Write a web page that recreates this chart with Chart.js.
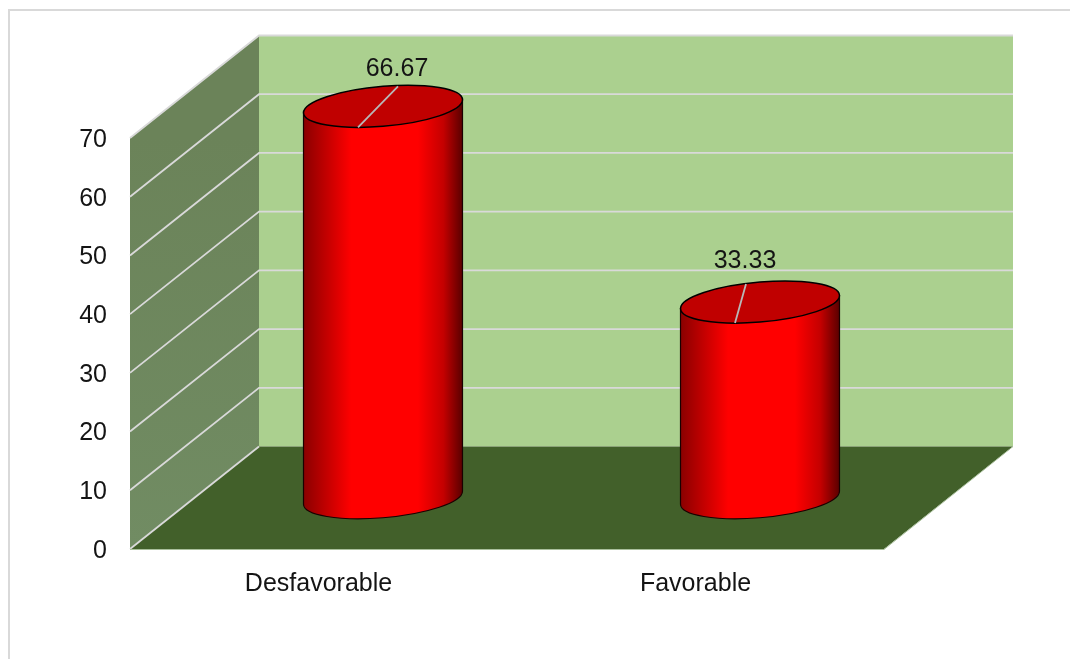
<!DOCTYPE html>
<html>
<head>
<meta charset="utf-8">
<style>
  html, body { margin: 0; padding: 0; background: #fff; }
  #frame { position: absolute; left: 8px; top: 9px; right: 0; bottom: 0; border-left: 2px solid #d9d9d9; border-top: 2px solid #d9d9d9; }
  #wrap { position: absolute; left: 0; top: 0; width: 1070px; height: 659px; }
</style>
<script src="https://cdn.jsdelivr.net/npm/chart.js@4"></script>
</head>
<body>
<div id="frame"></div>
<div id="wrap"><canvas id="chart" width="1070" height="659"></canvas></div>
<script>
const categories = ['Desfavorable', 'Favorable'];
const percentages = [66.67, 33.33];
const yMin = 0;
const yMax = 70;
const yStep = 10;

// Projection of the box depth on screen
const DEPTH_X = 129;
const DEPTH_Y = -102.5;
const ELLIPSE_RY = 20;
const ELLIPSE_SHEAR = -6.5 / 79.5;

// Value callouts: leader end and text position relative to the cylinder top
const callouts = [
  { fromX: -25, toX: 15, toY: -20, textX: 14, textY: -37 },
  { fromX: -25, toX: -14, toY: -18, textX: -15, textY: -41 }
];

const FONT_FAMILY = '"Liberation Sans", Arial, sans-serif';
const FONT_SIZE = 25;
const TEXT = '#141414';

function poly(ctx, pts, fill) {
  ctx.beginPath();
  pts.forEach((p, i) => i ? ctx.lineTo(p[0], p[1]) : ctx.moveTo(p[0], p[1]));
  ctx.closePath();
  ctx.fillStyle = fill;
  ctx.fill();
}

function ellipsePath(ctx, cx, cy, rx) {
  ctx.save();
  ctx.transform(1, ELLIPSE_SHEAR, 0, 1, cx, cy);
  ctx.beginPath();
  ctx.ellipse(0, 0, rx, ELLIPSE_RY, 0, 0, Math.PI * 2);
  ctx.restore();
}

// Box walls, floor and gridlines, all placed from the chart's own scales
const boxPlugin = {
  id: 'box3d',
  beforeDatasetsDraw(chart) {
    const { ctx, chartArea: a, scales: { y } } = chart;
    const zero = y.getPixelForValue(yMin);
    const top = y.getPixelForValue(yMax);
    ctx.save();
    poly(ctx, [[a.left + DEPTH_X, top + DEPTH_Y], [a.right + DEPTH_X, top + DEPTH_Y],
               [a.right + DEPTH_X, zero + DEPTH_Y], [a.left + DEPTH_X, zero + DEPTH_Y]],
         '#abd08f');
    const side = ctx.createLinearGradient(0, top, 0, zero);
    side.addColorStop(0, '#6b8359');
    side.addColorStop(1, '#718c63');
    poly(ctx, [[a.left, top], [a.left + DEPTH_X, top + DEPTH_Y],
               [a.left + DEPTH_X, zero + DEPTH_Y], [a.left, zero]], side);
    poly(ctx, [[a.left, zero], [a.right, zero], [a.right + DEPTH_X, zero + DEPTH_Y],
               [a.left + DEPTH_X, zero + DEPTH_Y]], '#42602a');

    ctx.strokeStyle = '#d9d9d9';
    ctx.lineWidth = 1.8;
    y.ticks.forEach(t => {
      const py = y.getPixelForValue(t.value);
      ctx.beginPath();
      ctx.moveTo(a.left, py);
      ctx.lineTo(a.left + DEPTH_X, py + DEPTH_Y);
      if (t.value !== yMin) ctx.lineTo(a.right + DEPTH_X, py + DEPTH_Y);
      ctx.stroke();
    });
    ctx.lineWidth = 1;
    ctx.strokeStyle = '#a9bf9b';
    ctx.beginPath();
    ctx.moveTo(a.left, zero + 0.5);
    ctx.lineTo(a.right, zero + 0.5);
    ctx.lineTo(a.right + DEPTH_X, zero + DEPTH_Y);
    ctx.stroke();
    ctx.restore();
  },
  // Cylinders stand at mid depth, sized from the bar elements
  afterDatasetsDraw(chart) {
    const { ctx } = chart;
    const bars = chart.getDatasetMeta(0).data;
    ctx.save();
    bars.forEach((bar, i) => {
      const cx = bar.x + DEPTH_X / 2;
      const rx = bar.width / 2;
      const topY = bar.y + DEPTH_Y / 2;
      const baseY = bar.base + DEPTH_Y / 2;
      const dy = rx * ELLIPSE_SHEAR;

      const g = ctx.createLinearGradient(cx - rx, 0, cx + rx, 0);
      g.addColorStop(0, '#8a0000');
      g.addColorStop(0.3, '#ff0000');
      g.addColorStop(0.72, '#ff0000');
      g.addColorStop(0.88, '#c40000');
      g.addColorStop(1, '#5a0000');

      // Body: side edges plus the lower half of the base ellipse
      ctx.beginPath();
      ctx.moveTo(cx - rx, topY - dy);
      ctx.lineTo(cx - rx, baseY - dy);
      ctx.save();
      ctx.transform(1, ELLIPSE_SHEAR, 0, 1, cx, baseY);
      ctx.ellipse(0, 0, rx, ELLIPSE_RY, 0, Math.PI, 0, true);
      ctx.restore();
      ctx.lineTo(cx + rx, topY + dy);
      ctx.closePath();
      ctx.fillStyle = g;
      ctx.fill();
      ctx.strokeStyle = '#1a0000';
      ctx.lineWidth = 1.2;
      ctx.stroke();

      // Top face
      ellipsePath(ctx, cx, topY, rx);
      ctx.fillStyle = '#c00000';
      ctx.fill();
      ctx.strokeStyle = '#000';
      ctx.lineWidth = 1.5;
      ctx.stroke();

      // Leader line and value text
      const c = callouts[i];
      ctx.beginPath();
      ctx.moveTo(cx + c.fromX, topY + ELLIPSE_RY + 1);
      ctx.lineTo(cx + c.toX, topY + c.toY);
      ctx.strokeStyle = '#b8b8b8';
      ctx.lineWidth = 1.8;
      ctx.stroke();

      ctx.font = FONT_SIZE + 'px ' + FONT_FAMILY;
      ctx.fillStyle = TEXT;
      ctx.textAlign = 'center';
      ctx.textBaseline = 'middle';
      ctx.fillText(percentages[i].toFixed(2), cx + c.textX, topY + c.textY);
    });
    ctx.restore();
  }
};

new Chart(document.getElementById('chart'), {
  type: 'bar',
  data: {
    labels: categories,
    datasets: [{
      data: percentages,
      backgroundColor: 'transparent',
      borderWidth: 0,
      barPercentage: 0.6494,
      categoryPercentage: 0.6494
    }]
  },
  options: {
    responsive: false,
    animation: false,
    events: [],
    layout: { padding: { left: 0, top: 138, right: 186, bottom: 50 } },
    plugins: { legend: { display: false }, tooltip: { enabled: false }, title: { display: false } },
    scales: {
      x: {
        grid: { display: false, drawTicks: false },
        border: { display: false },
        afterFit(s) { s.height = 60; },
        ticks: {
          padding: 20, maxRotation: 0, color: TEXT,
          font: { family: FONT_FAMILY, size: FONT_SIZE }
        }
      },
      y: {
        min: yMin,
        max: yMax,
        grid: { display: false, drawTicks: false },
        border: { display: false },
        afterFit(s) { s.width = 130; },
        ticks: {
          stepSize: yStep, padding: 23, labelOffset: 2, color: TEXT,
          font: { family: FONT_FAMILY, size: FONT_SIZE }
        }
      }
    }
  },
  plugins: [boxPlugin]
});
</script>
</body>
</html>
